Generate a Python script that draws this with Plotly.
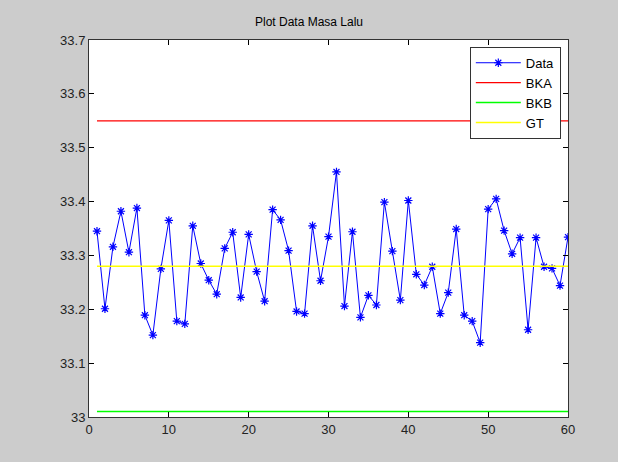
import plotly.graph_objects as go

x_vals = list(range(1, 61))
data_vals = [33.345, 33.201, 33.316, 33.382, 33.306, 33.388, 33.189, 33.152, 33.275, 33.365,
             33.178, 33.173, 33.355, 33.285, 33.254, 33.228, 33.313, 33.343, 33.222, 33.339,
             33.270, 33.215, 33.385, 33.366, 33.309, 33.196, 33.192, 33.355, 33.253, 33.335,
             33.455, 33.206, 33.344, 33.185, 33.226, 33.208, 33.399, 33.308, 33.217, 33.402,
             33.265, 33.245, 33.279, 33.192, 33.231, 33.349, 33.189, 33.178, 33.138, 33.386,
             33.405, 33.346, 33.303, 33.333, 33.162, 33.333, 33.279, 33.276, 33.244, 33.334]
bka = 33.55
bkb = 33.01
gt = 33.28
x_ticks = [0, 10, 20, 30, 40, 50, 60]
y_ticks = [33, 33.1, 33.2, 33.3, 33.4, 33.5, 33.6, 33.7]
y_tick_text = ["33", "33.1", "33.2", "33.3", "33.4", "33.5", "33.6", "33.7"]

fig = go.Figure()
fig.add_trace(go.Scatter(x=x_vals, y=data_vals, mode="lines+markers", name="Data",
                         line=dict(color="#0000ff", width=1),
                         marker=dict(symbol="asterisk-open", size=7,
                                     line=dict(color="#0000ff", width=1.2))))
fig.add_trace(go.Scatter(x=x_vals, y=[bka] * len(x_vals), mode="lines", name="BKA",
                         line=dict(color="#ff0000", width=1.2)))
fig.add_trace(go.Scatter(x=x_vals, y=[bkb] * len(x_vals), mode="lines", name="BKB",
                         line=dict(color="#00ff00", width=1.5)))
fig.add_trace(go.Scatter(x=x_vals, y=[gt] * len(x_vals), mode="lines", name="GT",
                         line=dict(color="#ffff00", width=1.5)))

axis_common = dict(showgrid=False, zeroline=False, showline=True, linecolor="#333333",
                   linewidth=1, mirror="allticks", ticks="inside", ticklen=5,
                   tickcolor="#000000", tickfont=dict(family="Liberation Sans, Arial", size=13, color="#222222"))

fig.update_layout(
    width=618, height=462,
    paper_bgcolor="#cccccc", plot_bgcolor="#ffffff",
    margin=dict(l=89, r=50, t=40, b=45),
    title=dict(text="Plot Data Masa Lalu", x=0.5, xanchor="center", y=0.953, yanchor="middle",
               font=dict(family="Liberation Sans, Arial", size=12, color="#000000")),
    xaxis=dict(range=[0, 60], tickvals=x_ticks, **axis_common),
    yaxis=dict(range=[33, 33.7], tickvals=y_ticks, ticktext=y_tick_text, **axis_common),
    showlegend=True,
    legend=dict(x=0.985, y=0.982, xanchor="right", yanchor="top", bgcolor="#ffffff",
                bordercolor="#333333", borderwidth=1, tracegroupgap=0,
                font=dict(family="Liberation Sans, Arial", size=13, color="#000000"),
                itemwidth=45),
)

fig.write_html("out.html", config={"displayModeBar": False},
               post_script="document.body.style.margin='0';")
